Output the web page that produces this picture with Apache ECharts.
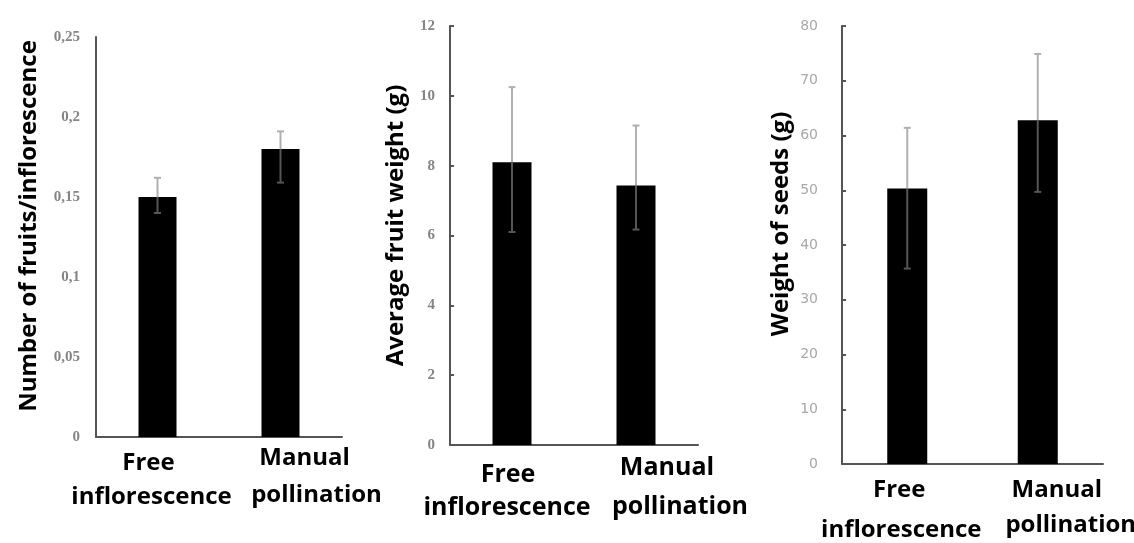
<!DOCTYPE html>
<html>
<head>
<meta charset="utf-8">
<script src="https://cdn.jsdelivr.net/npm/echarts@6/dist/echarts.min.js"></script>
<style>html,body{margin:0;padding:0;background:#fff}#c{width:1134px;height:543px}</style>
</head>
<body>
<div id="c"></div>
<script>
// ---- data ----
const categories = ['Free\ninflorescence', 'Manual\npollination'];

const fruitsTitle = 'Number of fruits/inflorescence';
const fruitsMean = [0.15, 0.18];
const fruitsLow  = [0.14, 0.159];
const fruitsHigh = [0.162, 0.191];
const fruitsTicks = ['0', '0,05', '0,1', '0,15', '0,2', '0,25'];

const weightTitle = 'Average fruit weight (g)';
const weightMean = [8.1, 7.43];
const weightLow  = [6.1, 6.17];
const weightHigh = [10.25, 9.15];
const weightTicks = ['0', '2', '4', '6', '8', '10', '12'];

const seedsTitle = 'Weight of seeds (g)';
const seedsMean = [50.3, 62.8];
const seedsLow  = [35.7, 49.7];
const seedsHigh = [61.4, 74.9];
const seedsTicks = ['0', '10', '20', '30', '40', '50', '60', '70', '80'];

// ---- layout / style ----
const panels = [
  {title: fruitsTitle, mean: fruitsMean, low: fruitsLow, high: fruitsHigh, ticks: fruitsTicks, interval: 0.05,
   grid: {left: 96, top: 37, width: 246, height: 400}, barWidth: 38,
   tickFont: 'Liberation Serif', tickWeight: 'bold', tickSize: 15, tickColor: '#858585', tickMargin: 16, showTicks: false,
   nameGap: 55, nameShift: 22,
   lab: {m: 6, size: 24, items: [[-9, 26, -6, 60], [24, 21, 36, 58]]}},
  {title: weightTitle, mean: weightMean, low: weightLow, high: weightHigh, ticks: weightTicks, interval: 2,
   grid: {left: 450, top: 26, width: 248, height: 419}, barWidth: 39,
   tickFont: 'Liberation Serif', tickWeight: 'bold', tickSize: 15, tickColor: '#858585', tickMargin: 15, showTicks: true,
   nameGap: 42, nameShift: 20,
   lab: {m: 10, size: 25, items: [[-4, 30, -5, 63], [31, 23, 44, 62]]}},
  {title: seedsTitle, mean: seedsMean, low: seedsLow, high: seedsHigh, ticks: seedsTicks, interval: 10,
   grid: {left: 842, top: 26, width: 261, height: 438}, barWidth: 40,
   tickFont: 'DejaVu Sans', tickWeight: 'normal', tickSize: 14, tickColor: '#a8a8a8', tickMargin: 24, showTicks: true,
   nameGap: 49, nameShift: 42,
   lab: {m: 8, size: 24, items: [[-8, 26, -6, 66], [19, 26, 33, 61]]}}
];

function padFor(dx) { return dx >= 0 ? [0, 0, 0, 2 * dx] : [0, -2 * dx, 0, 0]; }

const grids = [], xAxes = [], yAxes = [], series = [];
panels.forEach((p, k) => {
  grids.push(Object.assign({outerBoundsMode: 'none', containLabel: false}, p.grid));
  const rich = {};
  p.lab.items.forEach((it, i) => {
    const lh1 = 2 * (it[1] - p.lab.m);
    const lh2 = 2 * (it[3] - p.lab.m - lh1);
    const base = {fontFamily: 'Open Sans', fontWeight: 'bold', fontSize: p.lab.size, color: '#000'};
    rich['a' + i] = Object.assign({}, base, {lineHeight: lh1, padding: padFor(it[0])});
    rich['b' + i] = Object.assign({}, base, {lineHeight: lh2, padding: padFor(it[2])});
  });
  xAxes.push({
    type: 'category', gridIndex: k, data: categories,
    axisLine: {lineStyle: {color: '#555', width: 2}},
    axisTick: {show: false},
    axisLabel: {
      interval: 0, margin: p.lab.m, rich: rich,
      formatter: (v, i) => { const s = v.split('\n'); return '{a' + i + '|' + s[0] + '}\n{b' + i + '|' + s[1] + '}'; }
    }
  });
  yAxes.push({
    type: 'value', gridIndex: k, min: 0, max: p.interval * (p.ticks.length - 1), interval: p.interval,
    splitLine: {show: false},
    axisLine: {show: true, lineStyle: {color: '#555', width: 2}},
    axisTick: {show: p.showTicks, inside: true, length: 4, lineStyle: {color: '#555', width: 2}},
    axisLabel: {
      margin: p.tickMargin, color: p.tickColor, fontFamily: p.tickFont, fontSize: p.tickSize,
      fontWeight: p.tickWeight,
      formatter: (v) => p.ticks[Math.round(v / p.interval)]
    },
    name: p.title, nameLocation: 'middle', nameGap: p.nameGap, nameRotate: 90,
    nameTextStyle: {fontFamily: 'Open Sans', fontWeight: 'bold', fontSize: 24, color: '#000',
                    padding: [0, 0, 0, p.nameShift]}
  });
  series.push({
    type: 'bar', xAxisIndex: k, yAxisIndex: k, data: p.mean, barWidth: p.barWidth,
    itemStyle: {color: '#000'}, silent: true
  });
  series.push({
    type: 'custom', xAxisIndex: k, yAxisIndex: k, z: 5, silent: true,
    data: p.mean.map((m, i) => [i, p.low[i], p.high[i], m]),
    encode: {x: 0, y: [1, 2]},
    renderItem: (params, api) => {
      const x = api.value(0);
      const lo = api.coord([x, api.value(1)]);
      const hi = api.coord([x, api.value(2)]);
      const mid = api.coord([x, api.value(3)]);
      const hw = 3.5;
      const light = {stroke: '#b0b0b0', lineWidth: 2};
      const dark = {stroke: '#555', lineWidth: 2};
      return {type: 'group', children: [
        {type: 'line', shape: {x1: hi[0], y1: hi[1], x2: mid[0], y2: mid[1]}, style: light},
        {type: 'line', shape: {x1: mid[0], y1: mid[1], x2: lo[0], y2: lo[1]}, style: dark},
        {type: 'line', shape: {x1: hi[0] - hw, y1: hi[1], x2: hi[0] + hw, y2: hi[1]}, style: light},
        {type: 'line', shape: {x1: lo[0] - hw, y1: lo[1], x2: lo[0] + hw, y2: lo[1]}, style: dark}
      ]};
    }
  });
});

const chart = echarts.init(document.getElementById('c'), null, {renderer: 'canvas'});
chart.setOption({
  animation: false,
  backgroundColor: '#fff',
  grid: grids, xAxis: xAxes, yAxis: yAxes, series: series
});
</script>
</body>
</html>
